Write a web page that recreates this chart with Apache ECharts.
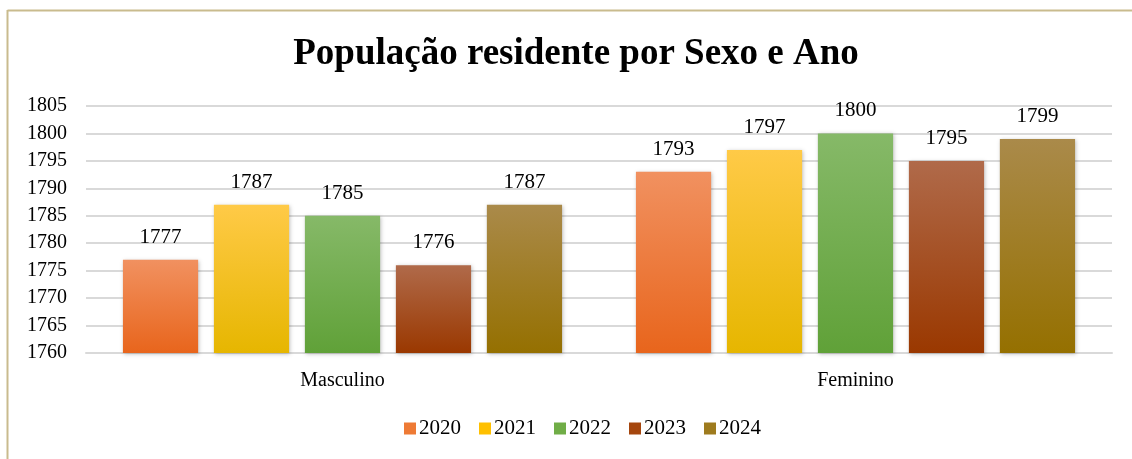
<!DOCTYPE html>
<html><head><meta charset="utf-8">
<script src="https://cdn.jsdelivr.net/npm/echarts@6/dist/echarts.min.js"></script>
<style>html,body{margin:0;padding:0;background:#fff}#c{width:1132px;height:459px}</style>
</head><body><div id="c"></div>
<script>
var categories = ['Masculino', 'Feminino'];
var years = ['2020', '2021', '2022', '2023', '2024'];
var v2020 = [1777, 1793];
var v2021 = [1787, 1797];
var v2022 = [1785, 1800];
var v2023 = [1776, 1795];
var v2024 = [1787, 1799];
var yTicks = [1760, 1765, 1770, 1775, 1780, 1785, 1790, 1795, 1800, 1805];

var seriesValues = [v2020, v2021, v2022, v2023, v2024];
var colorsTop = ['#f19160', '#ffca47', '#86b968', '#b06a4a', '#aa8a4a'];
var colorsBot = ['#e8651c', '#e6b600', '#60a138', '#9a3800', '#957000'];
var legendColors = ['#ee7a35', '#ffc000', '#70ad47', '#a5460e', '#9e7b1e'];

var chart = echarts.init(document.getElementById('c'));
var font = '"Liberation Serif", "Times New Roman", serif';
var series = years.map(function (y, i) {
  return {
    name: y, type: 'bar', data: seriesValues[i],
    barGap: '21%', barCategoryGap: '14.4%',
    itemStyle: {
      color: new echarts.graphic.LinearGradient(0, 0, 0, 1, [
        {offset: 0, color: colorsTop[i]}, {offset: 1, color: colorsBot[i]}]),
      shadowColor: 'rgba(0,0,0,0.25)', shadowBlur: 4, shadowOffsetX: 1, shadowOffsetY: 1
    },
    label: {show: true, position: 'top', distance: 12, color: '#000', fontFamily: font, fontSize: 21}
  };
});
chart.setOption({
  animation: false,
  title: {text: 'População residente por Sexo e Ano', left: 571, textAlign: 'center', top: 31,
    textStyle: {fontFamily: font, fontSize: 37, fontWeight: 'bold', color: '#000'}},
  legend: {bottom: 15, left: 399, itemWidth: 12, itemHeight: 12, itemGap: 18, icon: 'rect',
    textStyle: {fontFamily: font, fontSize: 21, color: '#000', padding: [0, 0, 0, -2]},
    data: years.map(function (y, i) { return {name: y, itemStyle: {color: legendColors[i]}}; })},
  grid: {left: 86, right: 20, top: 106, height: 247, containLabel: false},
  xAxis: {type: 'category', data: categories,
    axisLine: {lineStyle: {color: '#d9d9d9', width: 2}}, axisTick: {show: false},
    axisLabel: {fontFamily: font, fontSize: 20, color: '#000', margin: 18}},
  yAxis: {type: 'value', min: yTicks[0], max: yTicks[yTicks.length - 1], interval: 5,
    axisLine: {show: false}, axisTick: {show: false},
    axisLabel: {fontFamily: font, fontSize: 20, color: '#000', margin: 19,
      formatter: function (v) { return String(v); }},
    splitLine: {lineStyle: {color: '#d9d9d9', width: 2}}},
  graphic: [
    {type: 'line', shape: {x1: 7.5, y1: 10.5, x2: 1132, y2: 10.5}, style: {stroke: '#c9bb8e', lineWidth: 2}},
    {type: 'line', shape: {x1: 7.5, y1: 10, x2: 7.5, y2: 459}, style: {stroke: '#c9bb8e', lineWidth: 2}}
  ],
  series: series
});
</script></body></html>
